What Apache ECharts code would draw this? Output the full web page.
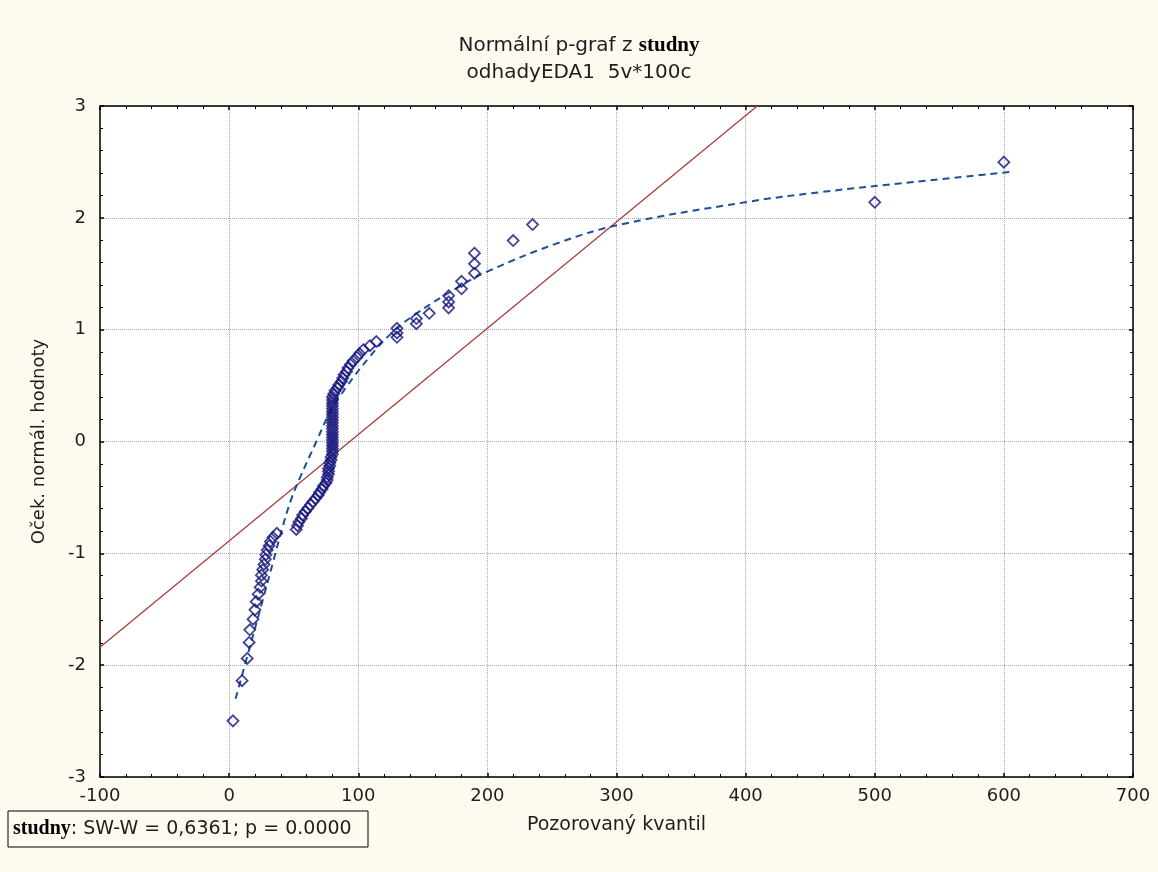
<!DOCTYPE html>
<html>
<head>
<meta charset="utf-8">
<script src="https://cdn.jsdelivr.net/npm/echarts@6/dist/echarts.min.js"></script>
<style>
html,body{margin:0;padding:0;background:#FDFAEF;}
#chart{width:1158px;height:872px;}
</style>
</head>
<body>
<div id="chart"></div>
<script>
// Expected normal values (y) for each observation, sorted
const normScores = [
  -2.498,-2.139,-1.940,-1.797,-1.684,-1.589,-1.505,-1.432,-1.365,-1.304,
  -1.248,-1.195,-1.146,-1.099,-1.054,-1.012,-0.971,-0.932,-0.894,-0.857,
  -0.821,-0.786,-0.753,-0.720,-0.688,-0.657,-0.626,-0.596,-0.566,-0.537,
  -0.508,-0.480,-0.453,-0.425,-0.398,-0.371,-0.345,-0.319,-0.293,-0.267,
  -0.241,-0.216,-0.190,-0.165,-0.138,-0.113,-0.088,-0.063,-0.038,-0.013,
   0.013, 0.038, 0.063, 0.088, 0.113, 0.138, 0.165, 0.190, 0.216, 0.241,
   0.267, 0.293, 0.319, 0.345, 0.371, 0.398, 0.425, 0.453, 0.480, 0.508,
   0.537, 0.566, 0.596, 0.626, 0.657, 0.688, 0.720, 0.753, 0.786, 0.821,
   0.857, 0.894, 0.932, 0.971, 1.012, 1.054, 1.099, 1.146, 1.195, 1.248,
   1.304, 1.365, 1.432, 1.505, 1.589, 1.684, 1.797, 1.940, 2.139, 2.498
];
const observed = [
  3, 10, 14, 15.5, 16, 18.5, 20, 21, 22.5, 24,
  25, 25, 26, 27, 28, 28.5, 29.5, 31, 32, 34,
  37, 52, 53, 54, 56, 57, 59, 61, 63, 65,
  67, 69, 70, 72, 73, 75, 76, 76, 77, 77,
  77, 78, 78, 79, 79, 80, 80, 80, 80, 80,
  80, 80, 80, 80, 80, 80, 80, 80, 80, 80,
  80, 80, 80, 80, 80, 80, 81, 82, 84, 85,
  87, 88, 89, 91, 92, 94, 96, 99, 101, 104,
  109, 114, 130, 130, 130, 145, 145, 155, 170, 170,
  170, 180, 180, 190, 190, 190, 220, 235, 500, 600
];
// Reference (normal) line endpoints
const refLineX = [-100, 409];
const refLineY = [-1.84, 3];
// Fitted dashed curve
const fitX = [5, 16, 26, 34, 41, 48, 55, 68, 78, 91, 109, 125, 142, 176, 202, 256, 303, 400, 458, 530, 605];
const fitY = [-2.30, -1.84, -1.42, -1.08, -0.78, -0.52, -0.32, 0.01, 0.26, 0.49, 0.76, 0.96, 1.12, 1.37, 1.53, 1.78, 1.94, 2.14, 2.23, 2.32, 2.41];
// Axis ranges
const xRange = [-100, 700, 100];
const yRange = [-3, 3, 1];

const FONT = "'DejaVu Sans', 'Liberation Sans', sans-serif";
const SERIF = "'Liberation Serif', 'Times New Roman', serif";
const TXT = '#1e1e1e';
const FS = 18;

const chart = echarts.init(document.getElementById('chart'), null, {renderer: 'canvas'});

function axisCommon(showLabel, margin) {
  return {
    axisLine: {show: true, onZero: false, lineStyle: {color: '#000', width: 1.5}},
    axisTick: {show: true, inside: true, length: 4, lineStyle: {color: '#000', width: 1.5}},
    minorTick: {show: true, splitNumber: 5, length: 3, lineStyle: {color: '#000', width: 1}},
    axisLabel: {show: showLabel, color: TXT, fontSize: FS, fontFamily: FONT, margin: margin || 8},
  };
}

const option = {
  backgroundColor: '#FDFAEF',
  animation: false,
  title: {
    text: 'Normální p-graf z {b|studny}',
    subtext: 'odhadyEDA1  5v*100c',
    left: 'center',
    top: 30,
    itemGap: 7,
    textStyle: {
      fontSize: 20, fontWeight: 'normal', color: TXT, fontFamily: FONT,
      rich: {b: {fontFamily: SERIF, fontWeight: 'bold', fontSize: 21, color: '#000'}}
    },
    subtextStyle: {fontSize: 20, color: TXT, fontFamily: FONT}
  },
  grid: {left: 100, top: 106, right: 25, bottom: 95, show: true, backgroundColor: '#ffffff', borderWidth: 0},
  xAxis: [
    Object.assign({
      type: 'value', position: 'bottom', min: xRange[0], max: xRange[1], interval: xRange[2],
      name: 'Pozorovaný kvantil', nameLocation: 'middle', nameGap: 39,
      nameTextStyle: {color: TXT, fontSize: 19, fontFamily: FONT},
      splitLine: {show: true, lineStyle: {type: 'dotted', color: '#a8a8a8', width: 1}}
    }, axisCommon(true, 10)),
    Object.assign({
      type: 'value', position: 'top', min: xRange[0], max: xRange[1], interval: xRange[2],
      splitLine: {show: false}
    }, axisCommon(false))
  ],
  yAxis: [
    Object.assign({
      type: 'value', position: 'left', min: yRange[0], max: yRange[1], interval: yRange[2],
      name: 'Oček. normál. hodnoty', nameLocation: 'middle', nameGap: 52,
      nameTextStyle: {color: TXT, fontSize: FS, fontFamily: FONT},
      splitLine: {show: true, lineStyle: {type: 'dotted', color: '#a8a8a8', width: 1}}
    }, axisCommon(true, 14)),
    Object.assign({
      type: 'value', position: 'right', min: yRange[0], max: yRange[1], interval: yRange[2],
      splitLine: {show: false}
    }, axisCommon(false))
  ],
  series: [
    {
      type: 'line',
      data: refLineX.map((x, i) => [x, refLineY[i]]),
      symbol: 'none',
      lineStyle: {color: '#a83c3c', width: 1.3},
      z: 2
    },
    {
      type: 'line',
      data: fitX.map((x, i) => [x, fitY[i]]),
      symbol: 'none',
      smooth: 0.4,
      lineStyle: {color: '#1b4f9c', width: 2, type: [7, 5]},
      z: 3
    },
    {
      type: 'scatter',
      data: observed.map((x, i) => [x, normScores[i]]),
      symbol: 'diamond',
      symbolSize: [11, 11],
      itemStyle: {color: 'rgba(0,0,0,0)', borderColor: '#14147a', borderWidth: 1.8},
      z: 4
    }
  ],
  graphic: [
    {
      type: 'rect',
      shape: {x: 8, y: 811, width: 360, height: 36},
      style: {fill: '#FDFAEF', stroke: '#000', lineWidth: 1}
    },
    {
      type: 'text',
      x: 13, y: 829,
      style: {
        text: '{b|studny}: SW-W = 0,6361; p = 0.0000',
        fontSize: 19, fontFamily: FONT, fill: TXT,
        verticalAlign: 'middle',
        rich: {b: {fontFamily: SERIF, fontWeight: 'bold', fontSize: 20, fill: '#000', color: '#000'}}
      }
    }
  ]
};
chart.setOption(option);
</script>
</body>
</html>
